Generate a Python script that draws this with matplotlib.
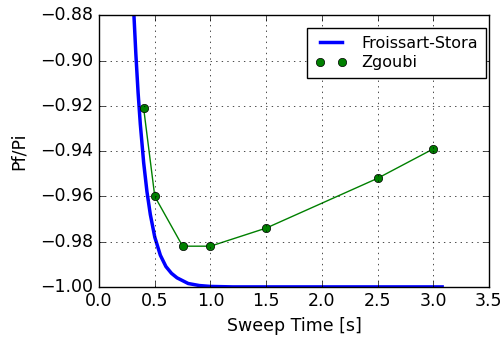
import matplotlib
matplotlib.use("Agg")
import matplotlib.pyplot as plt

# Froissart-Stora curve
fs_time = [0.30, 0.31, 0.33, 0.35, 0.37, 0.40, 0.43, 0.46, 0.50, 0.55, 0.60,
           0.65, 0.70, 0.80, 0.90, 1.0, 1.2, 1.5, 2.0, 2.5, 3.08]
fs_ratio = [-0.866, -0.877, -0.897, -0.914, -0.928, -0.945, -0.958, -0.968,
            -0.978, -0.986, -0.991, -0.994, -0.996, -0.9985, -0.9994, -0.9998,
            -1.0, -1.0, -1.0, -1.0, -1.0]

# Zgoubi tracking points
zg_time = [0.4, 0.5, 0.75, 1.0, 1.5, 2.5, 3.0]
zg_ratio = [-0.921, -0.960, -0.982, -0.982, -0.974, -0.952, -0.939]

plt.style.use('classic')
plt.rcParams['font.size'] = 12.5

fig = plt.figure(figsize=(5.03, 3.44), dpi=100, facecolor='white')
ax = fig.add_axes([0.197, 0.166, 0.775, 0.789])

ax.plot(fs_time, fs_ratio, 'b-', lw=2.5, label='Froissart-Stora')
ax.plot(zg_time, zg_ratio, 'g-')
ax.plot(zg_time, zg_ratio, 'go', ms=6, label='Zgoubi')

ax.set_xlim(0, 3.5)
ax.set_ylim(-1.0, -0.88)
ax.set_xlabel('Sweep Time [s]')
ax.set_ylabel('Pf/Pi', labelpad=9)
ax.grid(True)
ax.legend(loc='upper right', bbox_to_anchor=(1.0, 0.967), numpoints=2,
          fontsize=11.5, borderaxespad=0.2, labelspacing=0.3,
          borderpad=0.5, handletextpad=0.9)

fig.savefig('out.png', dpi=100, facecolor='white')
